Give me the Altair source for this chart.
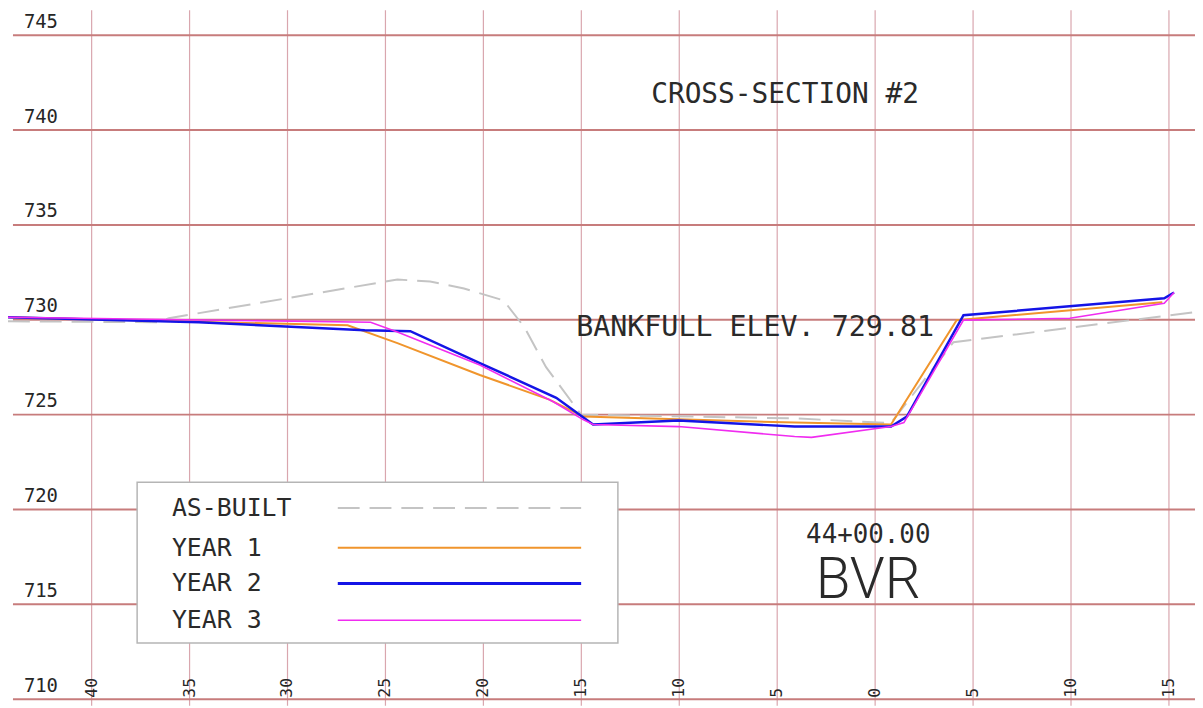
import altair as alt
import pandas as pd

# ---- data (station offset, elevation) ----
asbuilt_x = [-44.27, -36.56, -36.06, -24.39, -22.72, -20.99, -18.97, -17.9, -16.8, -15.01, -4.0, 0.8, 4.0, 16.33]
asbuilt_y = [729.92, 729.87, 730.08, 732.12, 732.02, 731.65, 731.02, 729.6, 727.5, 725.0, 724.8, 724.55, 728.82, 730.4]

year1_x = [-44.27, -26.93, -24.39, -20.18, -16.63, -14.91, -4.11, 0.81, 4.16, 14.66]
year1_y = [730.13, 729.71, 728.77, 727.09, 725.79, 724.90, 724.58, 724.48, 729.98, 730.92]

year2_x = [-44.27, -34.53, -26.06, -23.73, -20.18, -16.28, -14.40, -10.04, -4.11, 0.81, 1.62, 4.51, 14.76, 15.26]
year2_y = [730.13, 729.87, 729.45, 729.40, 727.72, 725.89, 724.48, 724.69, 724.37, 724.37, 724.90, 730.24, 731.13, 731.44]

year3_x = [-44.27, -25.76, -24.39, -20.18, -16.43, -14.91, -14.40, -10.04, -4.11, -3.25, 0.81, 1.47, 4.51, 9.94, 14.76, 15.26]
year3_y = [730.13, 729.87, 729.35, 727.62, 725.68, 724.74, 724.48, 724.37, 723.85, 723.80, 724.37, 724.58, 729.98, 730.08, 730.87, 731.44]

series_names = ["AS-BUILT", "YEAR 1", "YEAR 2", "YEAR 3"]
series_colors = ["#c4c4c4", "#f0952c", "#1414e6", "#f02cf0"]

x_ticks = [-40, -35, -30, -25, -20, -15, -10, -5, 0, 5, 10, 15]
y_ticks = [710, 715, 720, 725, 730, 735, 740, 745]

notes_text = ["CROSS-SECTION  #2", "BANKFULL ELEV. 729.81", "44+00.00"]
notes_x = [-4.6, -6.13, -0.35]
notes_y = [741.85, 729.6, 718.65]
notes_size = [28, 28.5, 26]

big_text = ["BVR"]
big_x = [-0.35]
big_y = [716.2]

FONT = "DejaVu Sans Mono"
W, H = 1195, 700
xs = alt.Scale(domain=[-44.27, 16.33], nice=False, zero=False)
ys = alt.Scale(domain=[709.66, 746.31], nice=False, zero=False)

rows = []
for name, xv, yv in zip(series_names, [asbuilt_x, year1_x, year2_x, year3_x],
                        [asbuilt_y, year1_y, year2_y, year3_y]):
    for i, (a, b) in enumerate(zip(xv, yv)):
        rows.append({"series": name, "x": a, "y": b, "o": i})
df = pd.DataFrame(rows)

xt = pd.DataFrame({"x": x_ticks, "lab": [str(abs(v)) for v in x_ticks]})
yt = pd.DataFrame({"y": y_ticks, "lab": [str(v) for v in y_ticks]})

vgrid = alt.Chart(xt).mark_rule(color="#d9a6ae", strokeWidth=1.2).encode(
    x=alt.X("x:Q", scale=xs, axis=None), y=alt.value(0), y2=alt.value(H))
hgrid = alt.Chart(yt).mark_rule(color="#c77c7c", strokeWidth=2).encode(
    y=alt.Y("y:Q", scale=ys, axis=None), x=alt.value(5), x2=alt.value(W))
ylab = alt.Chart(yt).mark_text(align="left", baseline="middle", dy=-13.5, font=FONT,
                               fontSize=19, color="#262626").encode(
    y=alt.Y("y:Q", scale=ys, axis=None), x=alt.value(16), text="lab:N")
xlab = alt.Chart(xt).mark_text(align="left", baseline="middle", angle=270, font=FONT,
                               fontSize=16.5, color="#262626").encode(
    x=alt.X("x:Q", scale=xs, axis=None), y=alt.value(H - 8), text="lab:N")

def line(name, color, width, dash=None):
    kw = dict(color=color, strokeWidth=width, clip=True)
    if dash:
        kw["strokeDash"] = dash
    return alt.Chart(df[df.series == name]).mark_line(**kw).encode(
        x=alt.X("x:Q", scale=xs, axis=None), y=alt.Y("y:Q", scale=ys, axis=None), order="o:Q")

l0 = line("AS-BUILT", series_colors[0], 2, [22, 10])
l1 = line("YEAR 1", series_colors[1], 2)
l2 = line("YEAR 2", series_colors[2], 2.5)
l3 = line("YEAR 3", series_colors[3], 1.6)

notes = pd.DataFrame({"t": notes_text, "x": notes_x, "y": notes_y, "s": notes_size})
note_marks = alt.Chart(notes).mark_text(align="center", baseline="middle", font=FONT,
                                        color="#2a2a2a").encode(
    x=alt.X("x:Q", scale=xs, axis=None), y=alt.Y("y:Q", scale=ys, axis=None), text="t:N",
    size=alt.Size("s:Q", scale=None, legend=None))
big = pd.DataFrame({"t": big_text, "x": big_x, "y": big_y})
big_mark = alt.Chart(big).mark_text(align="center", baseline="middle", font="Roboto",
                                    fontWeight=300, fontSize=57, color="#2a2a2a").encode(
    x=alt.X("x:Q", scale=xs, axis=None), y=alt.Y("y:Q", scale=ys, axis=None), text="t:N")

# legend (manual, label left, stroke sample right)
leg = pd.DataFrame({"name": series_names, "color": series_colors,
                    "py": [501, 541, 577, 614],
                    "w": [2, 2, 3, 1.6]})
leg_box = alt.Chart(pd.DataFrame({"a": [0]})).mark_rect(
    fill="white", stroke="#b5b5b5", strokeWidth=1.5).encode(
    x=alt.value(130), x2=alt.value(614), y=alt.value(475), y2=alt.value(637))
leg_text = alt.Chart(leg).mark_text(align="left", baseline="middle", font=FONT,
                                    fontSize=25, color="#2a2a2a").encode(
    x=alt.value(165), y=alt.Y("py:Q", scale=None), text="name:N")
leg_lines = []
for i, (n, c) in enumerate(zip(series_names, series_colors)):
    kw = dict(color=c, strokeWidth=leg.w[i])
    if i == 0:
        kw["strokeDash"] = [22, 10]
    leg_lines.append(alt.Chart(leg[leg.name == n]).mark_rule(**kw).encode(
        x=alt.value(332), x2=alt.value(577), y=alt.Y("py:Q", scale=None)))

chart = alt.layer(vgrid, hgrid, ylab, xlab, l0, l1, l2, l3, note_marks, big_mark,
                  leg_box, leg_text, *leg_lines).properties(
    width=W, height=H, padding=0, autosize=alt.AutoSizeParams(type="none")
).configure_view(stroke=None)

chart.save("out.html", embed_options={"renderer": "svg", "actions": False})
